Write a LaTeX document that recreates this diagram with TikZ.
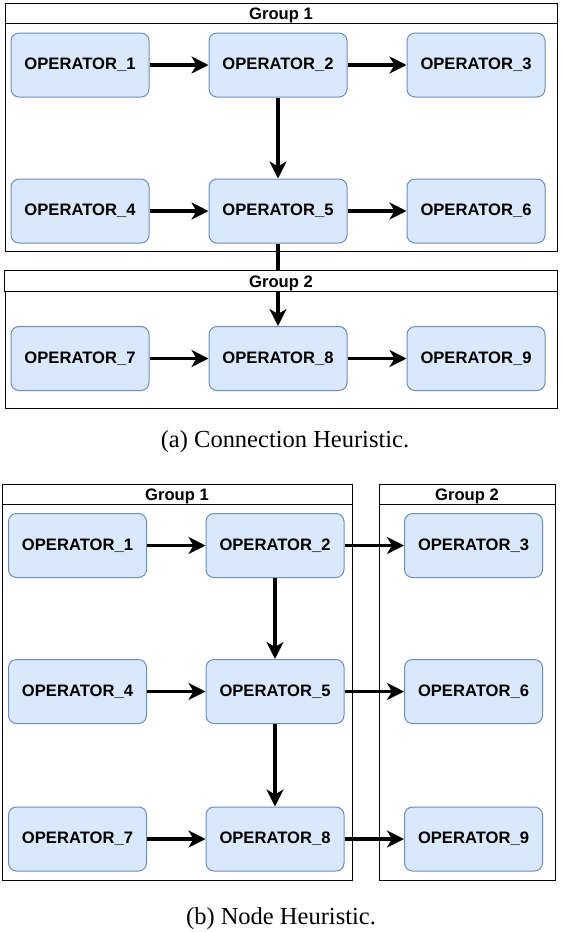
\documentclass[tikz,border=0pt]{standalone}
\usepackage{fontspec}
\setmainfont{Liberation Serif}
\newfontfamily\arialfont{Liberation Sans}
\usetikzlibrary{arrows.meta}
\definecolor{opfill}{HTML}{DAE8FC}
\definecolor{opdraw}{HTML}{6C8EBF}
\begin{document}
\begin{tikzpicture}[x=1pt,y=-1pt,
  opbox/.style={draw=opdraw, fill=opfill, line width=1pt, rounded corners=8pt,
    minimum width=138pt, minimum height=64pt, inner sep=0pt,
    font=\arialfont\bfseries\fontsize{16.6}{19}\selectfont},
  grp/.style={draw=black, line width=1pt, inner sep=0pt},
  grplabel/.style={inner sep=0pt, anchor=base, font=\arialfont\bfseries\fontsize{16.6}{19}\selectfont},
  conn/.style={line width=3.2pt, -{Stealth[length=17pt, width=17pt, inset=5pt]}},
  captext/.style={inner sep=0pt, font=\fontsize{24.5}{28}\selectfont}]
\useasboundingbox[fill=white] (0,0) rectangle (562,932);

% ---------- (a) ----------
\node[grp, minimum width=552pt, minimum height=248pt] (ga1) at (281,127) {};
\draw[line width=1pt] ([yshift=-21pt]ga1.north west) -- ([yshift=-21pt]ga1.north east);
\node[grplabel] (ga1l) at ([yshift=-16.5pt]ga1.north) {Group 1};

\node[grp, minimum width=552pt, minimum height=137pt] (ga2) at (281,339.5) {};

\node[opbox] (a1) at (80,65) {OPERATOR\_1};
\node[opbox] (a2) at (278,65) {OPERATOR\_2};
\node[opbox] (a3) at (476,65) {OPERATOR\_3};
\node[opbox] (a4) at (80,211) {OPERATOR\_4};
\node[opbox] (a5) at (278,211) {OPERATOR\_5};
\node[opbox] (a6) at (476,211) {OPERATOR\_6};
\node[opbox] (a7) at (80,358.5) {OPERATOR\_7};
\node[opbox] (a8) at (278,358.5) {OPERATOR\_8};
\node[opbox] (a9) at (476,358.5) {OPERATOR\_9};

\draw[conn] (a1) -- (a2);
\draw[conn] (a2) -- (a3);
\draw[conn] (a2) -- (a5);
\draw[conn] (a4) -- (a5);
\draw[conn] (a5) -- (a6);
\draw[conn] (a5) -- (a8);
\draw[conn] (a7) -- (a8);
\draw[conn] (a8) -- (a9);

% header band of group 2 covers the passing connector
\filldraw[fill=white, draw=black, line width=1pt] (ga2.north west) rectangle ([yshift=-21pt]ga2.north east);
\node[grplabel] (ga2l) at ([yshift=-16.5pt]ga2.north) {Group 2};

\node[captext] (capa) at (285,442) {(a) Connection Heuristic.};

% ---------- (b) ----------
\node[grp, minimum width=350pt, minimum height=396pt] (gb1) at (177,682) {};
\draw[line width=1pt] ([yshift=-21pt]gb1.north west) -- ([yshift=-21pt]gb1.north east);
\node[grplabel] (gb1l) at ([yshift=-16.5pt]gb1.north) {Group 1};

\node[grp, minimum width=176pt, minimum height=396pt] (gb2) at (467,682) {};
\draw[line width=1pt] ([yshift=-21pt]gb2.north west) -- ([yshift=-21pt]gb2.north east);
\node[grplabel] (gb2l) at ([yshift=-16.5pt]gb2.north) {Group 2};

\node[opbox] (b1) at (77.5,545.5) {OPERATOR\_1};
\node[opbox] (b2) at (275,545.5) {OPERATOR\_2};
\node[opbox] (b3) at (473.5,545.5) {OPERATOR\_3};
\node[opbox] (b4) at (77.5,691.5) {OPERATOR\_4};
\node[opbox] (b5) at (275,691.5) {OPERATOR\_5};
\node[opbox] (b6) at (473.5,691.5) {OPERATOR\_6};
\node[opbox] (b7) at (77.5,839) {OPERATOR\_7};
\node[opbox] (b8) at (275,839) {OPERATOR\_8};
\node[opbox] (b9) at (473.5,839) {OPERATOR\_9};

\draw[conn] (b1) -- (b2);
\draw[conn] (b2) -- (b3);
\draw[conn] (b2) -- (b5);
\draw[conn] (b4) -- (b5);
\draw[conn] (b5) -- (b6);
\draw[conn] (b5) -- (b8);
\draw[conn] (b7) -- (b8);
\draw[conn] (b8) -- (b9);

\node[captext] (capb) at (281,919) {(b) Node Heuristic.};
\end{tikzpicture}
\end{document}
